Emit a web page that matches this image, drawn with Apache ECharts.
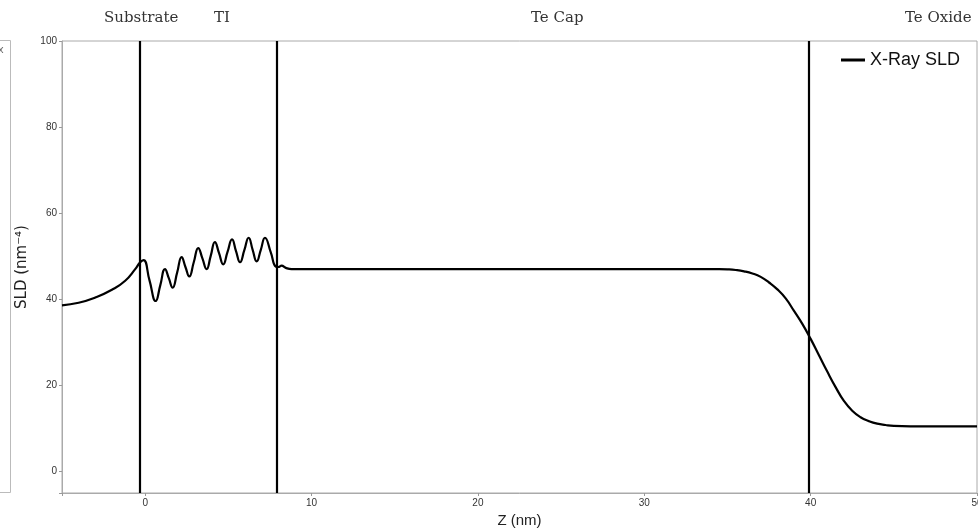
<!DOCTYPE html>
<html>
<head>
<meta charset="utf-8">
<script src="https://cdn.jsdelivr.net/npm/echarts@6/dist/echarts.min.js"></script>
<style>
  html, body { margin: 0; padding: 0; background: #fff; }
  #chart { width: 978px; height: 529px; }
</style>
</head>
<body>
<div id="chart"></div>
<script>
  // depth (nm) and X-ray SLD
  var zValues = [-5, -4, -3, -2, -1.2, -0.6, -0.3, -0.1,
    0.26, 0.63, 0.91, 1.19, 1.42, 1.65, 1.92, 2.19, 2.42, 2.65, 2.92, 3.19,
    3.44, 3.69, 3.94, 4.19, 4.44, 4.69, 4.95, 5.22, 5.46, 5.70, 5.96, 6.22,
    6.46, 6.70, 6.95, 7.20, 7.55, 7.85, 8.0, 8.2, 8.45, 8.8,
    10, 15, 20, 25, 30, 34, 34.5, 35, 35.5, 36, 36.5, 37, 37.5, 38, 38.5,
    39, 39.5, 40, 40.5, 41, 41.5, 42, 42.5, 43, 43.5, 44, 44.5, 45, 46, 50];
  var sldValues = [38.6, 39.2, 40.4, 42.2, 44.3, 47.0, 48.6, 49.1,
    44.4, 39.6, 43.3, 47.0, 44.9, 42.7, 46.2, 49.8, 47.5, 45.3, 48.6, 51.9,
    49.5, 47.0, 50.1, 53.3, 50.7, 48.1, 51.0, 53.9, 51.2, 48.6, 51.4, 54.3,
    51.5, 48.8, 51.5, 54.3, 50.9, 47.6, 47.5, 47.8, 47.3, 47.0,
    47.0, 47.0, 47.0, 47.0, 47.0, 47.0, 47.0, 46.95, 46.8, 46.5, 46.0, 45.2, 43.9, 42.3, 40.2,
    37.3, 34.3, 30.8, 27.0, 23.2, 19.6, 16.4, 14.1, 12.6, 11.7, 11.1, 10.8, 10.6, 10.5, 10.5];
  // layer boundaries (nm)
  var boundaries = [-0.3, 7.9, 39.9];
  var regionNames = ['Substrate', 'TI', 'Te Cap', 'Te Oxide'];
  var regionCenters = [104, 214, 531, 905];

  var seriesData = zValues.map(function (z, i) { return [z, sldValues[i]]; });

  var labelFont = "'Liberation Sans', Arial, sans-serif";
  var graphics = regionNames.map(function (name, i) {
    return {
      type: 'text',
      left: regionCenters[i],
      top: 11,
      style: {
        text: name,
        font: "15px 'DejaVu Serif', 'Liberation Serif', serif",
        fill: '#333',
        textAlign: 'center'
      }
    };
  });
  // edge of the neighbouring panel on the left
  graphics.push({
    type: 'polyline',
    shape: { points: [[0, 40.5], [10.5, 40.5], [10.5, 492.5], [0, 492.5]] },
    style: { stroke: '#bbb', lineWidth: 1, fill: null }
  });
  graphics.push({
    type: 'text', left: -2, top: 44,
    style: { text: 'x', font: '11px ' + labelFont, fill: '#666' }
  });

  var myChart = echarts.init(document.getElementById('chart'));
  var option = {
    animation: false,
    backgroundColor: '#fff',
    grid: {
      left: 62, right: 1, top: 41, bottom: 36,
      outerBoundsMode: 'none',
      show: true, borderColor: '#aaa', borderWidth: 1
    },
    legend: {
      right: 13,
      top: 46,
      itemWidth: 24,
      itemHeight: 3,
      icon: 'rect',
      data: ['X-Ray SLD'],
      textStyle: { fontSize: 18, fontFamily: labelFont, color: '#111' }
    },
    graphic: graphics,
    xAxis: {
      type: 'value',
      min: -5,
      max: 50,
      splitNumber: 5,
      name: 'Z (nm)',
      nameLocation: 'middle',
      nameGap: 20,
      nameTextStyle: { fontSize: 15, fontFamily: labelFont, color: '#222' },
      splitLine: { show: false },
      axisLine: { onZero: false, lineStyle: { color: '#aaa' } },
      axisTick: { length: 3, lineStyle: { color: '#999' } },
      axisLabel: {
        fontSize: 10, fontFamily: labelFont, color: '#333', margin: 5,
        formatter: function (v) { return v % 10 === 0 ? v : ''; }
      }
    },
    yAxis: {
      type: 'value',
      min: -5,
      max: 100,
      splitNumber: 5,
      name: 'SLD (nm\u207B\u2074)',
      nameLocation: 'middle',
      nameGap: 27,
      nameTextStyle: { fontSize: 15, fontFamily: "'DejaVu Sans', " + labelFont, color: '#222' },
      splitLine: { show: false },
      axisLine: { show: true, onZero: false, lineStyle: { color: '#aaa' } },
      axisTick: { show: true, length: 3, lineStyle: { color: '#999' } },
      axisLabel: {
        fontSize: 10, fontFamily: labelFont, color: '#333', margin: 5,
        formatter: function (v) { return v % 20 === 0 ? v : ''; }
      }
    },
    series: [{
      name: 'X-Ray SLD',
      type: 'line',
      data: seriesData,
      smooth: 0.5,
      symbol: 'none',
      lineStyle: { color: '#000', width: 2.2 },
      itemStyle: { color: '#000' },
      markLine: {
        silent: true,
        symbol: ['none', 'none'],
        label: { show: false },
        lineStyle: { color: '#000', width: 2.2, type: 'solid' },
        data: boundaries.map(function (b) { return { xAxis: b }; })
      }
    }]
  };
  myChart.setOption(option);
</script>
</body>
</html>
